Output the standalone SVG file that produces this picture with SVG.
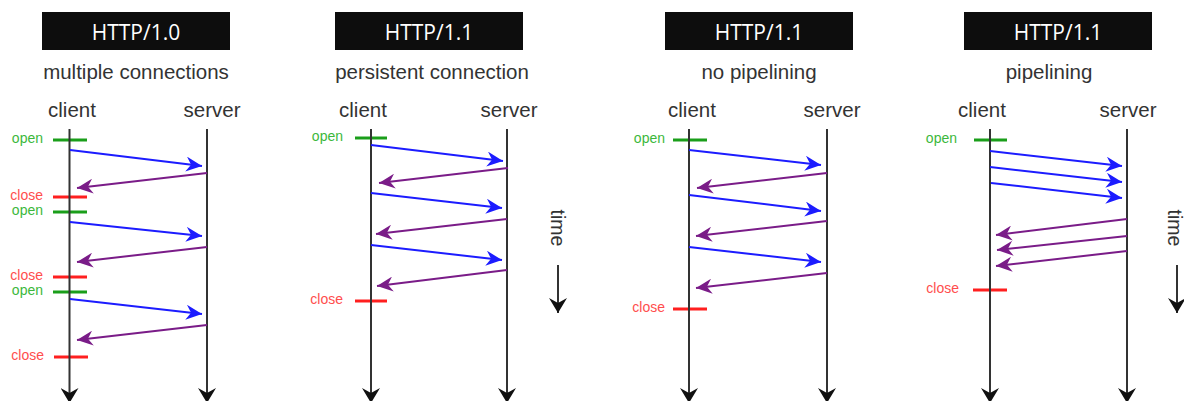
<svg xmlns="http://www.w3.org/2000/svg" width="1184" height="401" viewBox="0 0 1184 401">
<style>
.hdr{fill:#0d0d0d}
.hdrt{fill:#ffffff;font-family:"Open Sans","Liberation Sans",sans-serif;font-size:21px;text-anchor:middle}
.sub{fill:#333333;font-family:"Liberation Sans",Arial,sans-serif;font-size:20.5px;text-anchor:middle}
.tm{fill:#333333;font-family:"Liberation Sans",Arial,sans-serif;font-size:19.5px;text-anchor:middle}
.life{stroke:#333333;stroke-width:2;fill:none;marker-end:url(#blk)}
.open{stroke:#1a9e1a;stroke-width:3}
.close{stroke:#ff1f1f;stroke-width:3}
.ol{fill:#3cb83c;font-family:"Liberation Sans",Arial,sans-serif;font-size:14px;text-anchor:end}
.cl{fill:#ff4d4d;font-family:"Liberation Sans",Arial,sans-serif;font-size:14px;text-anchor:end}
.req{stroke:#1c1cff;stroke-width:2;fill:none;marker-end:url(#blu)}
.res{stroke:#7a1c88;stroke-width:2;fill:none;marker-end:url(#pur)}
</style>
<defs>
<marker id="blu" markerUnits="userSpaceOnUse" markerWidth="17" markerHeight="15" refX="16" refY="7.5" orient="auto"><path d="M0,0 L16,7.5 L0,15 L5,7.5 Z" fill="#1c1cff"/></marker>
<marker id="pur" markerUnits="userSpaceOnUse" markerWidth="17" markerHeight="15" refX="16" refY="7.5" orient="auto"><path d="M0,0 L16,7.5 L0,15 L5,7.5 Z" fill="#7a1c88"/></marker>
<marker id="blk" markerUnits="userSpaceOnUse" markerWidth="16" markerHeight="18" refX="15" refY="9" orient="auto"><path d="M0,0 L15,9 L0,18 L5,9 Z" fill="#111111"/></marker>
</defs>
<rect width="1184" height="401" fill="#ffffff"/>

<g id="panel1">
<rect class="hdr" x="42" y="12" width="188" height="38"/>
<text class="hdrt" x="136" y="40">HTTP/1.0</text>
<text class="sub" x="136" y="79">multiple connections</text>
<text class="sub" x="72" y="117">client</text>
<text class="sub" x="212" y="117">server</text>
</g>
<g id="panel2">
<rect class="hdr" x="335" y="12" width="188" height="38"/>
<text class="hdrt" x="429" y="40">HTTP/1.1</text>
<text class="sub" x="432" y="79">persistent connection</text>
<text class="sub" x="363" y="117">client</text>
<text class="sub" x="509" y="117">server</text>
<text class="tm" transform="translate(551,228) rotate(90)">time</text>
</g>
<g id="panel3">
<rect class="hdr" x="665" y="12" width="188" height="38"/>
<text class="hdrt" x="759" y="40">HTTP/1.1</text>
<text class="sub" x="759" y="79">no pipelining</text>
<text class="sub" x="692" y="117">client</text>
<text class="sub" x="832" y="117">server</text>
</g>
<g id="panel4">
<rect class="hdr" x="964" y="12" width="188" height="38"/>
<text class="hdrt" x="1058" y="40">HTTP/1.1</text>
<text class="sub" x="1049" y="79">pipelining</text>
<text class="sub" x="982" y="117">client</text>
<text class="sub" x="1128" y="117">server</text>
<text class="tm" transform="translate(1168,228) rotate(90)">time</text>
</g>

<g id="markers">
<line class="open" x1="53" y1="140" x2="87" y2="140"/><text class="ol" x="43" y="143">open</text>
<line class="close" x1="53" y1="197" x2="87" y2="197"/><text class="cl" x="43" y="200">close</text>
<line class="open" x1="53" y1="212" x2="87" y2="212"/><text class="ol" x="43" y="215">open</text>
<line class="close" x1="53" y1="277" x2="87" y2="277"/><text class="cl" x="43" y="280">close</text>
<line class="open" x1="53" y1="292" x2="87" y2="292"/><text class="ol" x="43" y="295">open</text>
<line class="close" x1="54" y1="357" x2="88" y2="357"/><text class="cl" x="44" y="360">close</text>

<line class="open" x1="355" y1="138" x2="387" y2="138"/><text class="ol" x="343" y="141">open</text>
<line class="close" x1="355" y1="301" x2="387" y2="301"/><text class="cl" x="343" y="304">close</text>

<line class="open" x1="673" y1="140" x2="707" y2="140"/><text class="ol" x="665" y="143">open</text>
<line class="close" x1="673" y1="309" x2="707" y2="309"/><text class="cl" x="665" y="312">close</text>

<line class="open" x1="974" y1="140" x2="1007" y2="140"/><text class="ol" x="957" y="143">open</text>
<line class="close" x1="973" y1="290" x2="1007" y2="290"/><text class="cl" x="959" y="293">close</text>
</g>

<g id="connectors">
<line class="life" x1="69.5" y1="129" x2="69.5" y2="403"/>
<line class="life" x1="207" y1="129" x2="207" y2="403"/>
<line class="life" x1="371" y1="129" x2="371" y2="403"/>
<line class="life" x1="507" y1="129" x2="507" y2="403"/>
<line class="life" x1="689" y1="129" x2="689" y2="403"/>
<line class="life" x1="827" y1="129" x2="827" y2="403"/>
<line class="life" x1="990" y1="129" x2="990" y2="403"/>
<line class="life" x1="1127" y1="129" x2="1127" y2="403"/>
<line class="life" x1="558" y1="265" x2="558" y2="313"/>
<line class="life" x1="1177" y1="265" x2="1177" y2="313"/>

<line class="req" x1="70" y1="150" x2="202" y2="166"/>
<line class="res" x1="207" y1="173" x2="77" y2="188"/>
<line class="req" x1="70" y1="222" x2="202" y2="236"/>
<line class="res" x1="207" y1="247" x2="77" y2="262"/>
<line class="req" x1="70" y1="299" x2="202" y2="314"/>
<line class="res" x1="207" y1="325" x2="77" y2="340"/>

<line class="req" x1="371" y1="145" x2="503" y2="161"/>
<line class="res" x1="508" y1="168" x2="379" y2="183"/>
<line class="req" x1="371" y1="193" x2="502" y2="208"/>
<line class="res" x1="507" y1="219" x2="376" y2="234"/>
<line class="req" x1="371" y1="245" x2="502" y2="260"/>
<line class="res" x1="507" y1="270" x2="377" y2="286"/>

<line class="req" x1="689" y1="150" x2="821" y2="165"/>
<line class="res" x1="827" y1="173" x2="697" y2="188"/>
<line class="req" x1="689" y1="195" x2="821" y2="211"/>
<line class="res" x1="827" y1="221" x2="696" y2="236"/>
<line class="req" x1="689" y1="247" x2="821" y2="262"/>
<line class="res" x1="827" y1="273" x2="696" y2="288"/>

<line class="req" x1="990" y1="151" x2="1122" y2="166"/>
<line class="req" x1="990" y1="167" x2="1122" y2="182"/>
<line class="req" x1="991" y1="183" x2="1122" y2="198"/>
<line class="res" x1="1127" y1="219" x2="996" y2="235"/>
<line class="res" x1="1127" y1="236" x2="997" y2="250"/>
<line class="res" x1="1127" y1="251" x2="996" y2="266"/>
</g>
</svg>
